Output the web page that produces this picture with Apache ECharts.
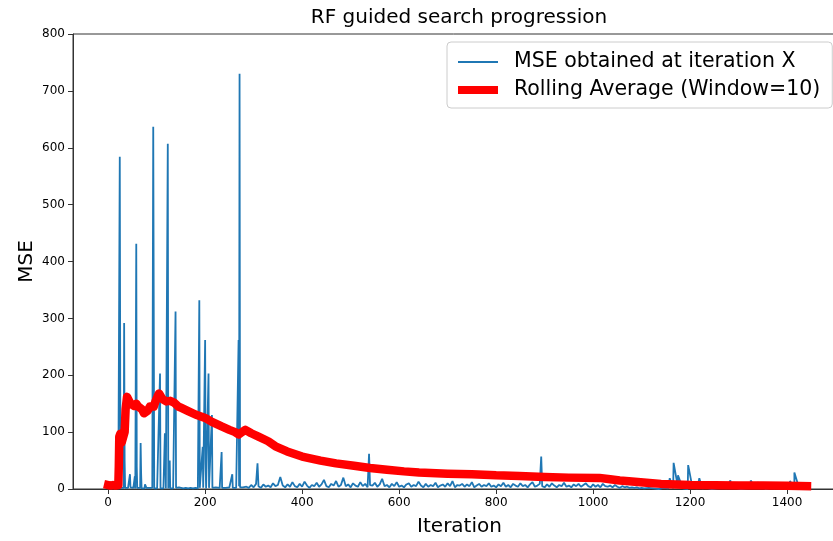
<!DOCTYPE html>
<html>
<head>
<meta charset="utf-8">
<script src="https://cdn.jsdelivr.net/npm/echarts@6/dist/echarts.min.js"></script>
<style>
  html, body { margin: 0; background: #fff; }
  #chart { width: 833px; height: 541px; }
</style>
</head>
<body>
<div id="chart"></div>
<script>
// MSE per iteration, first ~280 iterations: [iteration, MSE]
const earlyPoints = [
  [0,8],[3,5],[6,9],[9,4],[12,7],[15,5],[18,8],[21,4],[23,3],
  [24,584],[25,160],[26,2],[29,1],[32,2],[33,292],[34,50],[35,2],[38,1],[41,2],
  [44,1],[45,26],[46,3],[49,1],[52,2],[55,22],[56,1],[58,431],[59,39],[60,2],
  [63,1],[66,2],[67,81],[68,28],[69,1],[72,2],[75,1],[76,8],[79,2],[82,1],[85,2],
  [88,1],[91,2],[93,637],[94,327],[95,1],[98,2],[101,1],[104,2],[107,203],[108,1],
  [111,2],[114,1],[117,98],[118,45],[119,1],[122,2],[123,607],[124,1],[127,50],[128,1],
  [131,2],[134,1],[137,2],[139,312],[140,2],[143,1],[146,3],[150,2],[155,1],[160,2],
  [165,1],[170,2],[175,1],[180,2],[185,1],[188,332],[189,2],[192,1],[195,74],[196,2],
  [198,1],[200,262],[201,45],[202,1],[204,2],[207,203],[208,2],[211,1],[214,130],[215,2],
  [218,1],[222,3],[226,1],[230,2],[234,65],[235,2],[238,1],[242,2],[246,1],[250,3],
  [254,2],[256,26],[257,2],[260,1],[264,2],[267,1],[269,262],[270,5],[271,730],[272,3],
  [275,1],[278,3],[282,2]
];

// low-level MSE noise from iteration 285 to 1100, every 5 iterations
const noiseStart = 285, noiseStep = 5;
const noiseValues = [
  4,2,7,3,9,5,2,8,4,6,3,10,5,7,21,6,3,8,4,12,
  5,3,9,4,13,6,2,7,5,11,4,8,16,5,3,9,6,14,4,7,
  20,5,8,3,10,6,4,12,5,9,3,7,6,11,4,8,18,5,7,3,
  9,5,12,4,6,3,8,10,4,7,5,13,6,3,9,4,7,5,11,3,
  6,8,4,10,5,14,3,7,6,9,4,8,5,12,3,6,9,4,7,5,
  10,4,6,3,8,5,11,4,7,3,9,6,4,10,5,7,3,8,12,4,
  6,9,5,3,8,4,10,6,3,7,5,11,4,6,3,8,5,9,4,7,
  10,5,3,8,4,7,3,9,5,4,6,3,7,4,2,5,3,4,2,3,
  2,3,1,2
];

// near-zero MSE from 1105 to 1435, every 10 iterations
const tailStart = 1105, tailStep = 10;
const tailValues = [
  1,2,1,0,2,1,1,3,1,0,2,1,1,2,0,1,3,1,1,2,
  0,1,2,1,1,0,2,1,1,2,1,0,1,2
];

// isolated spikes after iteration 280
const laterPoints = [
  [308,45],[538,62],[893,57],[1158,19],[1166,46],[1175,24],[1196,42],[1219,19],
  [1283,15],[1294,11],[1325,15],[1339,12],[1352,9],[1375,9],[1406,14],[1415,29],
  [1436,9],[1441,2]
];

// rolling average curve
const rollingIter = [0,5,10,15,21,22,23,25,28,32,34,36,39,42,46,50,54,58,62,66,70,74,78,82,86,90,94,98,102,105,108,112,116,120,124,128,132,136,140,145,150,165,180,200,214,234,250,262,269,274,283,295,310,330,345,369,400,438,470,507,540,575,610,641,700,750,800,848,900,950,1013,1035,1055,1080,1110,1140,1170,1200,1250,1300,1350,1400,1441];
const rollingValue = [7,6,7,6,7,40,92,97,82,85,100,140,162,160,150,152,146,150,145,147,140,133,130,138,145,147,145,155,163,168,165,158,156,154,157,155,153,152,149,145,143,137,131,125,118,110,104,100,96,99,104,98,92,84,75,66,57,50,45,41,37,34,31,29,27,26,24,23,21,20,19.5,17,15,13,11,9,8,7,6.5,6,6,5.5,5];

const xTicks = [0,200,400,600,800,1000,1200,1400];

const mseData = earlyPoints
  .concat(noiseValues.map((v, i) => [noiseStart + i * noiseStep, v]))
  .concat(tailValues.map((v, i) => [tailStart + i * tailStep, v]))
  .concat(laterPoints)
  .sort((a, b) => a[0] - b[0]);
const rollData = rollingIter.map((x, i) => [x, rollingValue[i]]);

const font = 'DejaVu Sans';
const spine = { show: true, onZero: false, lineStyle: { color: '#333', width: 1 } };
const chart = echarts.init(document.getElementById('chart'));
chart.setOption({
  animation: false,
  backgroundColor: '#fff',
  graphic: [{
    type: 'text', x: 459, y: 18,
    style: { text: 'RF guided search progression', font: '20px "DejaVu Sans"', fill: '#000', align: 'center', verticalAlign: 'middle' }
  }],
  grid: {
    left: 73, top: 34, bottom: 52, right: -13,
    outerBoundsMode: 'none', containLabel: false,
    show: true, borderColor: '#333', borderWidth: 1
  },
  legend: {
    left: 447, top: 42, orient: 'vertical',
    backgroundColor: 'rgba(255,255,255,0.8)',
    borderColor: '#ccc', borderWidth: 1, borderRadius: 4,
    padding: [9, 12, 7, 11],
    itemWidth: 40, itemHeight: 22, itemGap: 6,
    textStyle: { fontFamily: font, fontSize: 20.5, lineHeight: 22, color: '#000', padding: [0, 0, 0, 11] },
    data: [
      { name: 'MSE obtained at iteration X', icon: 'path://M0,0L40,0L40,2L0,2Z' },
      { name: 'Rolling Average (Window=10)', icon: 'path://M0,0L40,0L40,8L0,8Z' }
    ]
  },
  xAxis: {
    type: 'value', min: -72.45, max: 1521.45,
    name: 'Iteration', nameLocation: 'middle', nameGap: 28,
    nameTextStyle: { fontFamily: font, fontSize: 20, color: '#000' },
    splitLine: { show: false },
    axisLine: spine,
    axisTick: { show: true, inside: false, length: 5, lineStyle: { color: '#333' }, customValues: xTicks },
    axisLabel: { fontFamily: font, fontSize: 12, color: '#000', margin: 8, customValues: xTicks, formatter: v => String(v) }
  },
  yAxis: {
    type: 'value', min: 0, max: 800, interval: 100,
    name: 'MSE', nameLocation: 'middle', nameGap: 36, nameMoveOverlap: false,
    nameTextStyle: { fontFamily: font, fontSize: 20, color: '#000' },
    splitLine: { show: false },
    axisLine: spine,
    axisTick: { show: true, length: 5, lineStyle: { color: '#333' } },
    axisLabel: { fontFamily: font, fontSize: 12, color: '#000', margin: 8, formatter: v => String(v) }
  },
  series: [
    {
      name: 'MSE obtained at iteration X', type: 'line', data: mseData,
      symbol: 'none', color: '#1f77b4',
      lineStyle: { width: 1.8, color: '#1f77b4' }, z: 2
    },
    {
      name: 'Rolling Average (Window=10)', type: 'line', data: rollData,
      symbol: 'none', color: '#ff0000',
      lineStyle: { width: 8.5, color: '#ff0000', cap: 'square', join: 'round' }, z: 3
    }
  ]
});
</script>
</body>
</html>
